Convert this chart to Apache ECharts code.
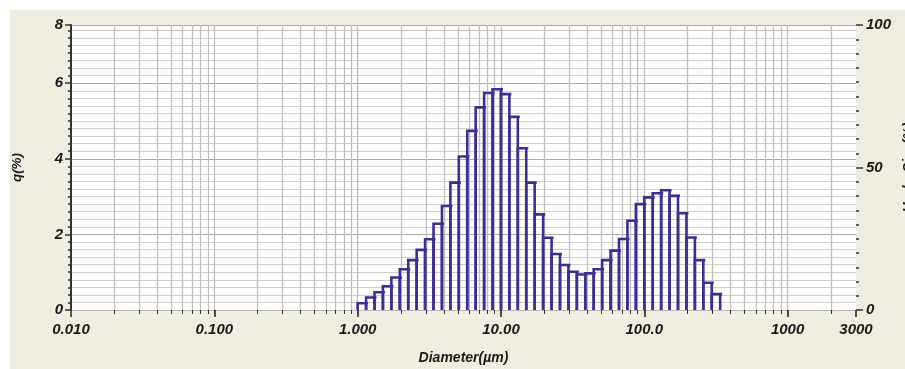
<!DOCTYPE html>
<html>
<head>
<meta charset="utf-8">
<script src="https://cdn.jsdelivr.net/npm/echarts@6/dist/echarts.min.js"></script>
<style>
  html, body { margin: 0; padding: 0; background: #ffffff; overflow: hidden; }
  #chart { position: absolute; left: 10px; top: 10px; width: 895px; height: 359px; }
</style>
</head>
<body>
<div id="chart"></div>
<script>
// Bin edges (µm), 17 bins per decade
const binEdges = [
  1.000, 1.145, 1.311, 1.501, 1.719, 1.968, 2.254, 2.581, 2.955, 3.384,
  3.875, 4.437, 5.080, 5.817, 6.661, 7.627, 8.733, 10.00, 11.45, 13.11,
  15.01, 17.19, 19.68, 22.54, 25.81, 29.55, 33.84, 38.75, 44.37, 50.80,
  58.17, 66.61, 76.27, 87.33, 100.0, 114.5, 131.1, 150.1, 171.9, 196.8,
  225.4, 258.1, 295.5, 338.4
];
// q(%) per bin
const qValues = [
  0.18, 0.33, 0.47, 0.63, 0.86, 1.08, 1.32, 1.59, 1.87, 2.28,
  2.75, 3.37, 4.06, 4.74, 5.36, 5.74, 5.84, 5.71, 5.11, 4.28,
  3.37, 2.53, 1.91, 1.48, 1.19, 1.01, 0.94, 0.97, 1.08, 1.32,
  1.57, 1.88, 2.36, 2.80, 2.98, 3.09, 3.17, 3.02, 2.56, 1.92,
  1.32, 0.72, 0.42
];
// X axis ticks
const xMajorTicks = [0.01, 0.1, 1, 10, 100, 1000, 3000];
const xMajorLabels = ['0.010', '0.100', '1.000', '10.00', '100.0', '1000', '3000'];
const xGridTicks = [
  0.02, 0.03, 0.04, 0.05, 0.06, 0.07, 0.08, 0.09, 0.1,
  0.2, 0.3, 0.4, 0.5, 0.6, 0.7, 0.8, 0.9, 1,
  2, 3, 4, 5, 6, 7, 8, 9, 10,
  20, 30, 40, 50, 60, 70, 80, 90, 100,
  200, 300, 400, 500, 600, 700, 800, 900, 1000,
  2000
];
// Y axes
const yLeftMax = 7.54;      // top of plot on the q(%) scale
const yLeftTopLabel = '8';
const yRightMax = 100;

const barData = qValues.map((v, i) => [binEdges[i], binEdges[i + 1], v]);

const FONT = 'Liberation Sans, Arial, sans-serif';
const labelStyle = { fontFamily: FONT, fontWeight: 'bold', fontStyle: 'italic', fontSize: 15, color: '#1a1a1a' };

const chart = echarts.init(document.getElementById('chart'));
chart.setOption({
  backgroundColor: '#efece0',
  animation: false,
  grid: {
    left: 61, right: 49, top: 15, bottom: 59,
    outerBoundsMode: 'none', containLabel: false,
    show: true, backgroundColor: '#ffffff', borderWidth: 0
  },
  xAxis: [
    {
      type: 'log', logBase: 10, min: 0.01, max: 3000,
      name: 'Diameter(µm)', nameLocation: 'middle', nameGap: 41,
      nameTextStyle: Object.assign({}, labelStyle, { fontSize: 14 }),
      axisLine: { show: true, lineStyle: { color: '#b8b8b8', width: 1 } },
      axisTick: { show: true, length: 7, customValues: xMajorTicks, lineStyle: { color: '#222', width: 1.5 } },
      axisLabel: Object.assign({}, labelStyle, {
        margin: 12,
        customValues: xMajorTicks,
        formatter: function (v) {
          let best = 0, bd = Infinity;
          xMajorTicks.forEach((t, i) => {
            const d = Math.abs(Math.log10(v) - Math.log10(t));
            if (d < bd) { bd = d; best = i; }
          });
          return xMajorLabels[best];
        }
      }),
      splitLine: { show: false },
      minorTick: { show: false },
      minorSplitLine: { show: false }
    },
    {
      type: 'log', logBase: 10, min: 0.01, max: 3000, position: 'bottom',
      axisLine: { show: false },
      axisLabel: { show: false },
      axisTick: { show: true, length: 4, customValues: xGridTicks, lineStyle: { color: '#333', width: 1 } },
      splitLine: { show: true, lineStyle: { color: '#c2beba', width: 1.3 } }
    }
  ],
  yAxis: [
    {
      type: 'value', min: 0, max: yLeftMax, interval: 2, position: 'left',
      name: 'q(%)', nameLocation: 'middle', nameGap: 47, nameRotate: 90,
      nameTextStyle: Object.assign({}, labelStyle, { fontSize: 13.5 }),
      axisLine: { show: true, lineStyle: { color: '#333', width: 2 } },
      axisTick: { show: true, length: 6, lineStyle: { color: '#333', width: 1.5 } },
      minorTick: { show: true, splitNumber: 10, length: 3, lineStyle: { color: '#333', width: 1.5 } },
      axisLabel: Object.assign({}, labelStyle, {
        margin: 8,
        formatter: function (v) { return v > 6.5 ? yLeftTopLabel : String(v); }
      }),
      splitLine: { show: true, lineStyle: { color: '#a8a8a8', width: 1.2 } },
      minorSplitLine: { show: true, lineStyle: { color: '#cdcdcd', width: 1.2 } }
    },
    {
      type: 'value', min: 0, max: yRightMax, interval: 50, position: 'right',
      name: 'UnderSize(%)', nameLocation: 'middle', nameGap: 40, nameRotate: 90,
      nameTextStyle: Object.assign({}, labelStyle, { fontSize: 14 }),
      axisLine: { show: false },
      axisTick: { show: true, length: 7, lineStyle: { color: '#333', width: 1.5 } },
      minorTick: { show: true, splitNumber: 10, length: 3, lineStyle: { color: '#333', width: 1.5 } },
      axisLabel: Object.assign({}, labelStyle, { margin: 10 }),
      splitLine: { show: false },
      minorSplitLine: { show: false }
    }
  ],
  series: [
    {
      type: 'custom',
      xAxisIndex: 0, yAxisIndex: 0,
      encode: { x: [0, 1], y: 2 },
      data: barData,
      renderItem: function (params, api) {
        const pTopL = api.coord([api.value(0), api.value(2)]);
        const pBotR = api.coord([api.value(1), 0]);
        return {
          type: 'polyline',
          shape: {
            points: [
              [pTopL[0], pBotR[1]],
              [pTopL[0], pTopL[1]],
              [pBotR[0] + 2, pTopL[1]],
              [pBotR[0], pTopL[1]],
              [pBotR[0], pBotR[1]]
            ]
          },
          style: { fill: null, stroke: '#3a2f92', lineWidth: 2.6 }
        };
      }
    }
  ]
});
</script>
</body>
</html>
